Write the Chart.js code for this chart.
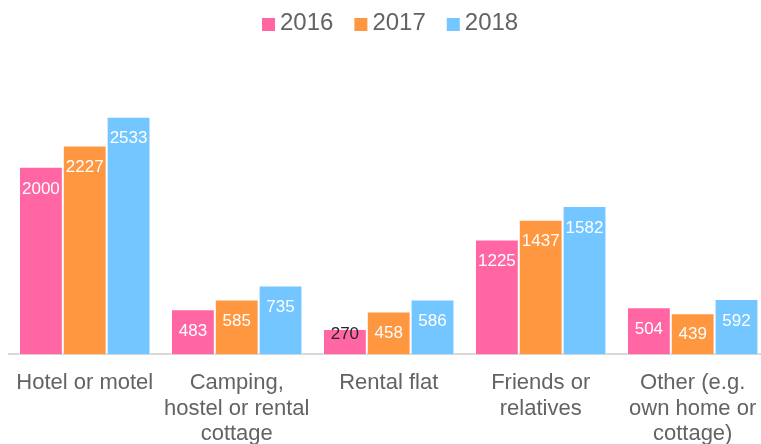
<!DOCTYPE html>
<html>
<head>
<meta charset="utf-8">
<script src="https://cdn.jsdelivr.net/npm/chart.js@4.4.1/dist/chart.umd.min.js"></script>
<style>
  html, body { margin: 0; padding: 0; background: #fff; overflow: hidden; }
  #wrap { position: relative; width: 772px; height: 463px; }
</style>
</head>
<body>
<div id="wrap"><canvas id="chart"></canvas></div>
<script>
// accommodation type, nights by year
const categories = [
  ["Hotel or motel"],
  ["Camping,", "hostel or rental", "cottage"],
  ["Rental flat"],
  ["Friends or", "relatives"],
  ["Other (e.g.", "own home or", "cottage)"]
];
const years = ["2016", "2017", "2018"];
const values2016 = [2000, 483, 270, 1225, 504];
const values2017 = [2227, 585, 458, 1437, 439];
const values2018 = [2533, 735, 586, 1582, 592];

const colors = ["#FF66A3", "#FF9640", "#73C6FF"];
const FONT = "'Liberation Sans', Arial, sans-serif";
const TEXT = "#636363";

// labels inside the top of each bar
const barLabels = {
  id: "barLabels",
  afterDatasetsDraw(chart) {
    const ctx = chart.ctx;
    const base = chart.scales.y.getPixelForValue(0);
    ctx.save();
    ctx.font = "17px " + FONT;
    ctx.textAlign = "center";
    ctx.textBaseline = "middle";
    chart.data.datasets.forEach((ds, i) => {
      chart.getDatasetMeta(i).data.forEach((bar, j) => {
        const h = base - bar.y;
        ctx.fillStyle = h < 30 ? "#262626" : "#ffffff";
        const y = Math.min(bar.y + 22, base - 20);
        ctx.fillText(ds.data[j], bar.x, y);
      });
    });
    ctx.restore();
  }
};

// legend drawn by hand: small square, tight gap, text
const topLegend = {
  id: "topLegend",
  afterDraw(chart) {
    const ctx = chart.ctx;
    ctx.save();
    ctx.font = "24px " + FONT;
    ctx.textBaseline = "middle";
    let x = 262;
    const y = 23;
    chart.data.datasets.forEach((ds) => {
      ctx.fillStyle = ds.backgroundColor;
      ctx.fillRect(x, y - 5, 13, 13);
      x += 18;
      ctx.fillStyle = TEXT;
      ctx.fillText(ds.label, x, y);
      x += ctx.measureText(ds.label).width + 21;
    });
    ctx.restore();
  }
};

new Chart(document.getElementById("chart"), {
  type: "bar",
  data: {
    labels: categories,
    datasets: [
      { label: years[0], data: values2016, backgroundColor: colors[0] },
      { label: years[1], data: values2017, backgroundColor: colors[1] },
      { label: years[2], data: values2018, backgroundColor: colors[2] }
    ]
  },
  options: {
    responsive: true,
    maintainAspectRatio: false,
    animation: false,
    layout: { padding: { top: 73, left: 6, right: 0, bottom: 0 } },
    datasets: {
      bar: {
        categoryPercentage: 0.865,
        barPercentage: 1,
        borderWidth: 1,
        borderColor: "#ffffff"
      }
    },
    scales: {
      x: {
        grid: { display: true, drawOnChartArea: false, drawTicks: false },
        border: { display: true, color: "#D9D9D9", width: 2 },
        ticks: {
          color: TEXT,
          font: { family: FONT, size: 22, lineHeight: 1.16 },
          padding: 16,
          maxRotation: 0,
          autoSkip: false
        }
      },
      y: {
        display: false,
        min: 0,
        max: 3000
      }
    },
    plugins: {
      legend: { display: false },
      tooltip: { enabled: false }
    }
  },
  plugins: [barLabels, topLegend]
});
</script>
</body>
</html>
